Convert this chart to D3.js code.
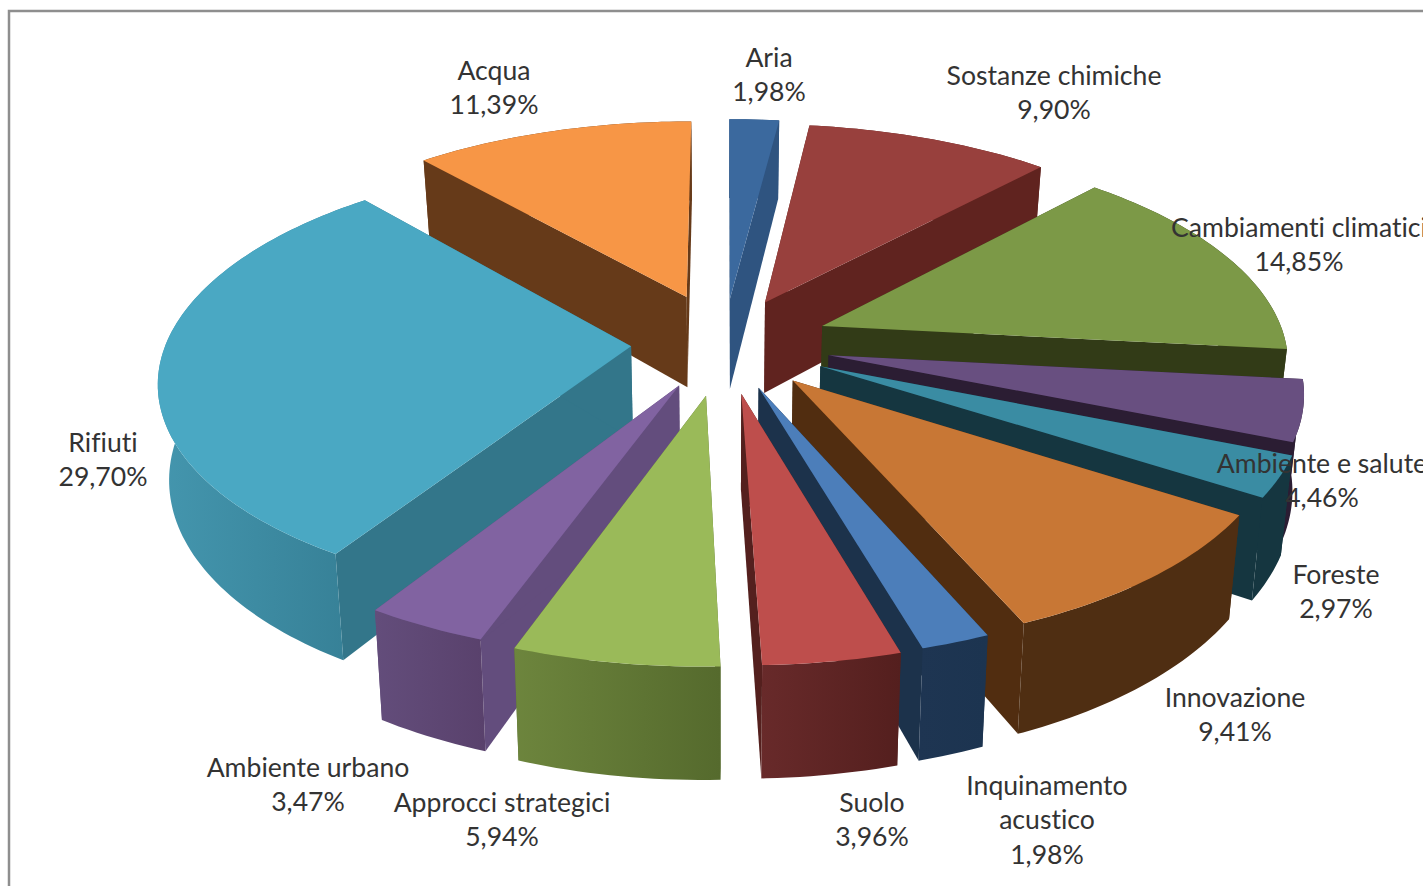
<!DOCTYPE html>
<html>
<head>
<meta charset="utf-8">
<script src="https://d3js.org/d3.v7.min.js"></script>
<style>
    html, body { margin: 0; padding: 0; background: #fff; overflow: hidden; }
    text { font-family: Lato, "Open Sans", sans-serif; font-size: 26.6px; fill: #333; font-variant-ligatures: none; }
</style>
</head>
<body>
<div id="chart"></div>
<script>
// exploded 3D pie, the slices are projected by hand from d3.pie angles

// data
let categories = ["Aria", "Sostanze chimiche", "Cambiamenti climatici", "Ambiente e salute", "Foreste", "Innovazione",
    "Inquinamento\nacustico", "Suolo", "Approcci strategici", "Ambiente urbano", "Rifiuti", "Acqua"];
let values = [1.98, 9.90, 14.85, 4.46, 2.97, 9.41, 1.98, 3.96, 5.94, 3.47, 29.70, 11.39];

// colours per slice
let topColors = ["#3b699e", "#98403d", "#7c9947", "#684f80", "#3a8ca3", "#c87735", "#4c7eba", "#be4e4c", "#9aba59", "#8163a1", "#4aa8c3", "#f79646"];
let cutColors = ["#2f5480", "#60231f", "#323b17", "#2b1d33", "#153640", "#512d10", "#1c324b", "#54201e", "#5c7035", "#634d7d", "#33768a", "#663a19"];
let wallLight = ["#2f5480", "#60231f", "#323b17", "#2b1d33", "#153640", "#4f2e12", "#1e3552", "#682a2a", "#6d853d", "#634d7b", "#4496ae", "#663a19"];
let wallDark = ["#2f5480", "#60231f", "#323b17", "#2b1d33", "#153640", "#4f2e12", "#1c3450", "#541f1e", "#556a2d", "#59416c", "#357e94", "#663a19"];

// label centres and first baselines
let labelX = [769, 1054, 1299, 1322, 1336, 1235, 1047, 872, 502, 308, 103, 494];
let labelY = [66.7, 84.7, 236.7, 472.7, 583.7, 706.7, 794.7, 811.7, 811.7, 776.7, 451.7, 79.7];
let lineHeight = 34.7;

// how far each slice is pulled out, and its radius
let explodeBy = [100, 100, 106, 107, 107, 104, 100, 108, 112, 100, 93, 110];
let radiusBy = [474, 468, 464, 464, 468, 470, 474, 468, 466, 474, 465, 464];

// layout of the pie
let width = 1423, height = 886;
let cx = 724, cy = 343;
let depth = 93;
let tilt = 0.46, camera = 3200, shrink = 0.98;

let svg = d3.select("#chart").append("svg")
    .attr("width", width)
    .attr("height", height)
    .style("display", "block");

// frame, it runs off the picture on the right and at the bottom
svg.append("path")
    .attr("d", "M9," + height + "V11H" + width)
    .attr("fill", "none")
    .attr("stroke", "#8e8e8e")
    .attr("stroke-width", 2.5);

let pie = d3.pie().sort(null).value(d => d)(values);

// plane point -> screen point, bottom = true gives the underside of the slice
function project(d, angle, r, bottom) {
    let mid = (d.startAngle + d.endAngle) / 2;
    let X = explodeBy[d.index] * Math.sin(mid) + r * Math.sin(angle);
    let Y = -(explodeBy[d.index] * Math.cos(mid) + r * Math.cos(angle));
    let f = camera / (camera - Y);
    if (bottom) {
        return [cx + X * f * shrink, cy + Y * tilt * f + depth * f];
    }
    return [cx + X * f, cy + Y * tilt * f];
}

function arcPoints(d, bottom) {
    return d3.range(d.startAngle, d.endAngle, 0.02).concat(d.endAngle)
        .map(a => project(d, a, radiusBy[d.index], bottom));
}

let line = d3.line().curve(d3.curveLinearClosed);

// cut face from the tip of the slice to its outer corner
function cutFace(d, angle) {
    return line([
        project(d, angle, 0, false),
        project(d, angle, radiusBy[d.index], false),
        project(d, angle, radiusBy[d.index], true),
        project(d, angle, 0, true)
    ]);
}

let defs = svg.append("defs");
pie.forEach((d, i) => {
    let grad = defs.append("linearGradient").attr("id", "wall" + i);
    grad.append("stop").attr("offset", "0%").attr("stop-color", wallLight[i]);
    grad.append("stop").attr("offset", "100%").attr("stop-color", wallDark[i]);
});

// far slices first
let order = d3.range(pie.length).sort((a, b) => {
    let ma = (pie[a].startAngle + pie[a].endAngle) / 2;
    let mb = (pie[b].startAngle + pie[b].endAngle) / 2;
    return Math.cos(mb) - Math.cos(ma);
});

let slices = svg.append("g").selectAll("g")
    .data(order)
    .join("g");

slices.append("path")
    .attr("d", i => cutFace(pie[i], pie[i].startAngle))
    .attr("fill", i => cutColors[i]);

slices.append("path")
    .attr("d", i => cutFace(pie[i], pie[i].endAngle))
    .attr("fill", i => cutColors[i]);

slices.append("path")
    .attr("d", i => line(arcPoints(pie[i], false).concat(arcPoints(pie[i], true).reverse())))
    .attr("fill", i => "url(#wall" + i + ")");

slices.append("path")
    .attr("d", i => line([project(pie[i], pie[i].startAngle, 0, false)].concat(arcPoints(pie[i], false))))
    .attr("fill", i => topColors[i]);

// labels
let labels = svg.append("g").selectAll("text")
    .data(categories)
    .join("text")
    .attr("text-anchor", "middle")
    .attr("x", (d, i) => labelX[i])
    .attr("y", (d, i) => labelY[i]);

labels.each(function (d, i) {
    let rows = d.split("\n").concat(values[i].toFixed(2).replace(".", ",") + "%");
    d3.select(this).selectAll("tspan")
        .data(rows)
        .join("tspan")
        .attr("x", labelX[i])
        .attr("y", (r, j) => labelY[i] + j * lineHeight)
        .text(r => r);
});
</script>
</body>
</html>
